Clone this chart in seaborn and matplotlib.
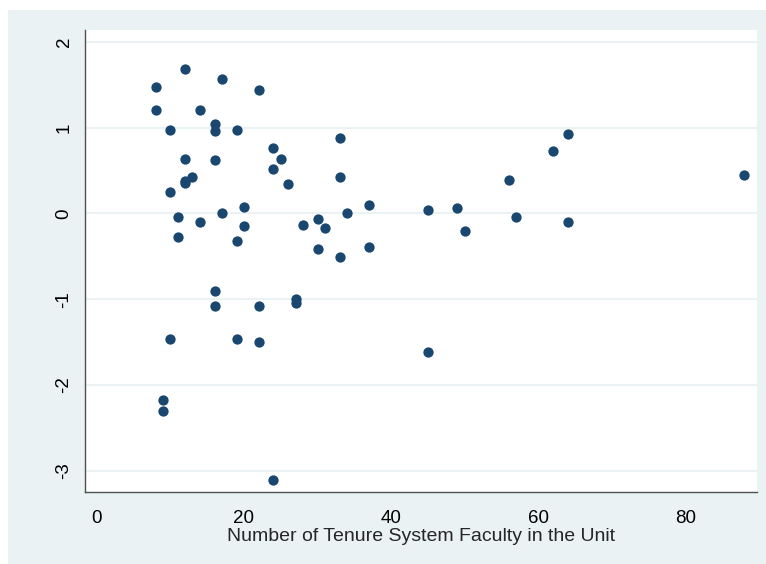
import matplotlib
matplotlib.use("Agg")
import matplotlib.pyplot as plt
from matplotlib.patches import Rectangle
import seaborn as sns
import pandas as pd

faculty = [8, 8, 12, 10, 14, 17, 16, 16, 19, 22, 12, 16, 24, 25, 24, 26, 33, 33,
           13, 12, 12, 10, 11, 11, 14, 17, 20, 20, 19, 28, 30, 31, 30, 33, 34, 37, 37,
           16, 16, 22, 27, 27, 10, 19, 22, 9, 9, 24,
           64, 62, 56, 88, 45, 49, 50, 57, 64, 45]
score = [1.47, 1.21, 1.68, 0.97, 1.21, 1.57, 1.04, 0.96, 0.97, 1.44, 0.64, 0.62, 0.76, 0.63, 0.52, 0.34, 0.88, 0.43,
         0.43, 0.38, 0.35, 0.25, -0.04, -0.27, -0.10, 0.01, 0.08, -0.15, -0.32, -0.13, -0.06, -0.17, -0.42, -0.51, 0.00, 0.10, -0.39,
         -0.90, -1.08, -1.08, -1.00, -1.04, -1.46, -1.47, -1.50, -2.18, -2.30, -3.11,
         0.93, 0.73, 0.39, 0.45, 0.04, 0.06, -0.21, -0.04, -0.10, -1.62]

x_ticks = [0, 20, 40, 60, 80]
y_ticks = [-3, -2, -1, 0, 1, 2]
x_label = "Number of Tenure System Faculty in the Unit"

df = pd.DataFrame({"faculty": faculty, "score": score})

sns.set_style("white")
plt.rcParams["font.family"] = ["Liberation Sans", "DejaVu Sans"]

fig = plt.figure(figsize=(7.66, 5.64), dpi=100)
fig.patch.set_facecolor("white")
fig.patches.append(Rectangle((8 / 766, 0), 758 / 766, 554 / 564,
                             transform=fig.transFigure, facecolor="#EAF2F3",
                             edgecolor="none", zorder=-10))
ax = fig.add_axes([85 / 766, 72 / 564, 672 / 766, 462 / 564])
ax.set_zorder(1)
ax.set_facecolor("white")

sns.scatterplot(data=df, x="faculty", y="score", ax=ax, color="#1a476f",
                s=55, linewidth=0, zorder=3)

ax.set_xlim(-1.6, 89.7)
ax.set_ylim(-3.25, 2.14)
ax.set_xticks(x_ticks)
ax.set_yticks(y_ticks)
ax.set_xticklabels([str(t) for t in x_ticks])
ax.set_yticklabels([str(t) for t in y_ticks])
ax.yaxis.grid(True, color="#EAF2F3", linewidth=1.5, zorder=0)
ax.xaxis.grid(False)
ax.set_axisbelow(True)

for side in ["top", "right"]:
    ax.spines[side].set_visible(False)
for side in ["left", "bottom"]:
    ax.spines[side].set_color("#505050")
    ax.spines[side].set_linewidth(1.0)

ax.tick_params(axis="both", direction="out", length=5, width=1.0, color="#505050",
               labelsize=13.5, labelcolor="black")
ax.tick_params(axis="x", pad=8)
ax.tick_params(axis="y", pad=4, labelrotation=90)
for lbl in ax.get_yticklabels():
    lbl.set_va("center")

ax.set_xlabel(x_label, fontsize=14, labelpad=1)
ax.set_ylabel("")

fig.savefig("out.png", dpi=100, facecolor=fig.get_facecolor())
